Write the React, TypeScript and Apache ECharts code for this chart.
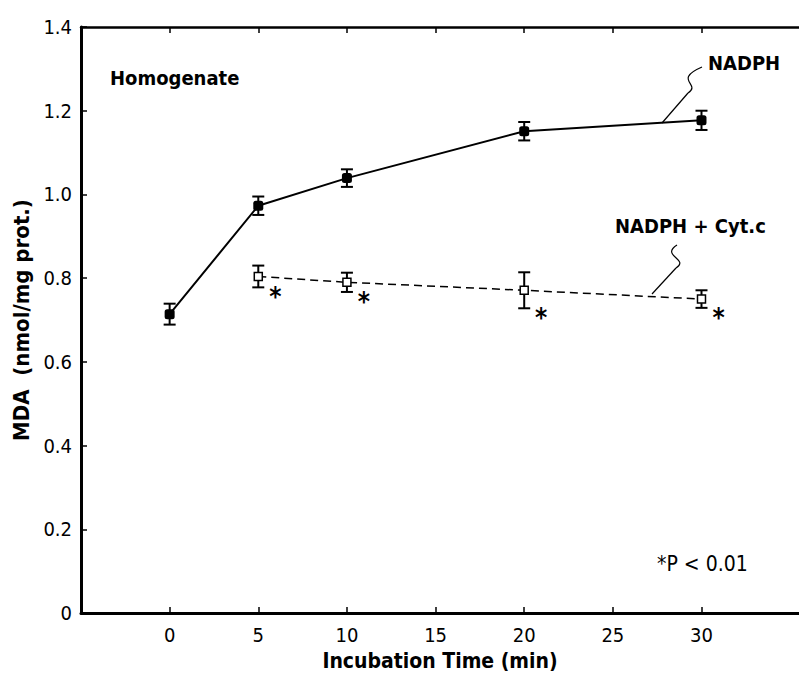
import React, { useEffect, useRef } from "react";
import * as echarts from "echarts";

const times = [0, 5, 10, 20, 30];
const nadph = [0.714, 0.973, 1.039, 1.151, 1.177];
const nadphErr = [0.025, 0.022, 0.021, 0.022, 0.023];

const cytTimes = [5, 10, 20, 30];
const cyt = [0.804, 0.79, 0.771, 0.75];
const cytErr = [0.026, 0.023, 0.043, 0.021];
const cytSignificant = [true, true, true, true];

const xTicks = [0, 5, 10, 15, 20, 25, 30];

const FONT = "'DejaVu Sans Condensed', 'Liberation Sans Narrow', 'DejaVu Sans', sans-serif";

export default function App() {
  const ref = useRef<HTMLDivElement>(null);
  useEffect(() => {
    if (!ref.current) return;
    const chart = echarts.init(ref.current, null, { renderer: "svg" });

    const errRender = (withStar: boolean) => (params: any, api: any) => {
      const x = api.value(0);
      const lo = api.value(1);
      const hi = api.value(2);
      const star = api.value(3);
      const pLo = api.coord([x, lo]);
      const pHi = api.coord([x, hi]);
      const cap = 6;
      const st = { stroke: "#000", lineWidth: 2 };
      const children: any[] = [
        { type: "line", shape: { x1: pLo[0], y1: pLo[1], x2: pHi[0], y2: pHi[1] }, style: st },
        { type: "line", shape: { x1: pLo[0] - cap, y1: pLo[1], x2: pLo[0] + cap, y2: pLo[1] }, style: st },
        { type: "line", shape: { x1: pHi[0] - cap, y1: pHi[1], x2: pHi[0] + cap, y2: pHi[1] }, style: st },
      ];
      if (withStar && star) {
        children.push({
          type: "text",
          x: pLo[0] + 17,
          y: pLo[1] + 10,
          style: {
            text: "*",
            fontSize: 26,
            fontFamily: FONT,
            fontWeight: "bold",
            fill: "#000",
            align: "center",
            verticalAlign: "middle",
          },
        });
      }
      return { type: "group", children };
    };

    chart.setOption({
      animation: false,
      backgroundColor: "#fff",
      grid: { left: 81, right: 0, top: 27, bottom: 59, containLabel: false },
      xAxis: [
        {
          type: "value",
          min: -5,
          max: 35.5,
          interval: 5,
          position: "bottom",
          name: "Incubation Time (min)",
          nameLocation: "middle",
          nameGap: 37,
          nameTextStyle: { fontFamily: FONT, fontSize: 21, fontWeight: "bold", color: "#000" },
          axisLine: { show: true, onZero: false, lineStyle: { color: "#000", width: 3 } },
          axisTick: { show: true, inside: true, length: 6, customValues: xTicks, lineStyle: { color: "#000", width: 1.5 } },
          axisLabel: { show: true, customValues: xTicks, margin: 12, fontFamily: FONT, fontSize: 20, color: "#000" },
          splitLine: { show: false },
        },
        {
          type: "value",
          min: -5,
          max: 35.5,
          interval: 5,
          position: "top",
          axisLine: { show: true, onZero: false, lineStyle: { color: "#000", width: 2.5 } },
          axisTick: { show: true, inside: true, length: 6, customValues: xTicks, lineStyle: { color: "#000", width: 1.5 } },
          axisLabel: { show: false },
          splitLine: { show: false },
        },
      ],
      yAxis: {
        type: "value",
        min: 0,
        max: 1.4,
        interval: 0.2,
        name: "MDA  (nmol/mg prot.)",
        nameLocation: "middle",
        nameGap: 46,
        nameTextStyle: { fontFamily: FONT, fontSize: 22, fontWeight: "bold", color: "#000" },
        axisLine: { show: true, onZero: false, lineStyle: { color: "#000", width: 3 } },
        axisTick: { show: true, inside: true, length: 6, lineStyle: { color: "#000", width: 1.5 } },
        axisLabel: {
          margin: 9,
          fontFamily: FONT,
          fontSize: 20,
          color: "#000",
          formatter: (v: number) => (Math.abs(v) < 1e-9 ? "0" : v.toFixed(1)),
        },
        splitLine: { show: false },
      },
      series: [
        {
          name: "NADPH",
          type: "line",
          data: times.map((t, i) => [t, nadph[i]]),
          symbol: "roundRect",
          symbolSize: 10,
          itemStyle: { color: "#000" },
          lineStyle: { color: "#000", width: 2 },
          z: 5,
        },
        {
          name: "NADPH + Cyt.c",
          type: "line",
          data: cytTimes.map((t, i) => [t, cyt[i]]),
          symbol: "rect",
          symbolSize: 8,
          itemStyle: { color: "#fff", borderColor: "#000", borderWidth: 1.5 },
          lineStyle: { color: "#000", width: 1.5, type: [8, 5] },
          z: 5,
        },
        {
          type: "custom",
          renderItem: errRender(false),
          data: times.map((t, i) => [t, nadph[i] - nadphErr[i], nadph[i] + nadphErr[i], 0]),
          z: 4,
        },
        {
          type: "custom",
          renderItem: errRender(true),
          data: cytTimes.map((t, i) => [t, cyt[i] - cytErr[i], cyt[i] + cytErr[i], cytSignificant[i] ? 1 : 0]),
          z: 4,
        },
      ],
      graphic: [
        {
          type: "text",
          left: 110,
          top: 68,
          style: { text: "Homogenate", fontFamily: FONT, fontSize: 20, fontWeight: "bold", fill: "#000" },
        },
        {
          type: "text",
          left: 708,
          top: 53,
          style: { text: "NADPH", fontFamily: FONT, fontSize: 20, fontWeight: "bold", fill: "#000" },
        },
        {
          type: "text",
          left: 615,
          top: 216,
          style: { text: "NADPH + Cyt.c", fontFamily: FONT, fontSize: 20, fontWeight: "bold", fill: "#000" },
        },
        {
          type: "text",
          left: 657,
          top: 553,
          style: { text: "*P < 0.01", fontFamily: FONT, fontSize: 21, fill: "#000" },
        },
        {
          type: "bezierCurve",
          shape: { x1: 702, y1: 67, x2: 688, y2: 93, cpx1: 672, cpy1: 80, cpx2: 702, cpy2: 84 },
          style: { stroke: "#000", lineWidth: 1.2, fill: null },
        },
        {
          type: "line",
          shape: { x1: 688, y1: 93, x2: 662, y2: 123 },
          style: { stroke: "#000", lineWidth: 1.2 },
        },
        {
          type: "bezierCurve",
          shape: { x1: 677, y1: 245, x2: 676, y2: 268, cpx1: 660, cpy1: 256, cpx2: 690, cpy2: 259 },
          style: { stroke: "#000", lineWidth: 1.2, fill: null },
        },
        {
          type: "line",
          shape: { x1: 676, y1: 268, x2: 652, y2: 294 },
          style: { stroke: "#000", lineWidth: 1.2 },
        },
      ],
    });
    return () => chart.dispose();
  }, []);
  return (
    <div
      ref={ref}
      style={{ position: "fixed", left: 0, top: 0, width: 799, height: 676, background: "#fff" }}
    />
  );
}
